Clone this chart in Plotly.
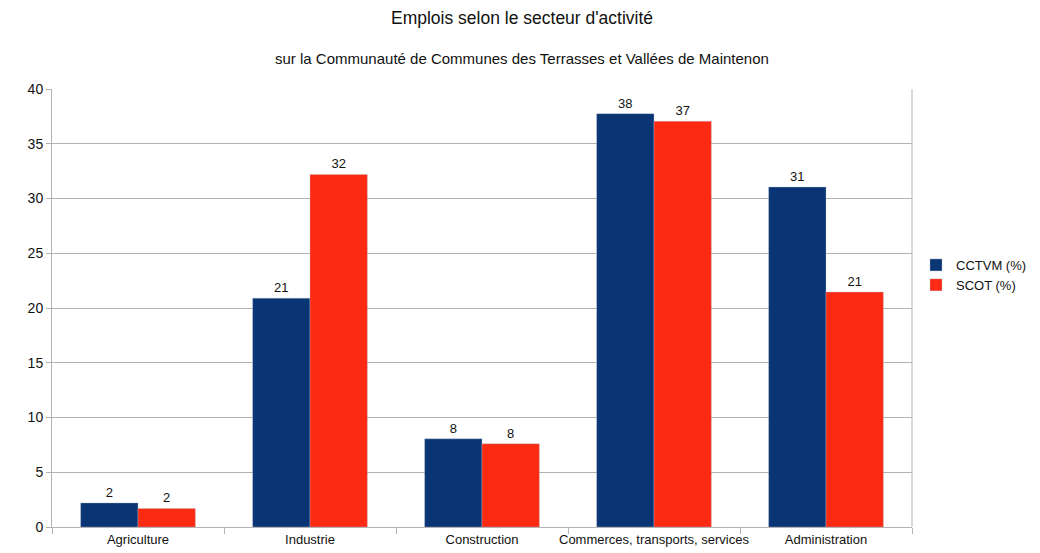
import plotly.graph_objects as go

# Secteurs d'activité et parts d'emploi (%)
secteurs = ["Agriculture", "Industrie", "Construction",
            "Commerces, transports, services", "Administration"]
cctvm = [2.2, 20.9, 8.05, 37.75, 31.05]
scot = [1.7, 32.2, 7.6, 37.05, 21.45]

couleur_cctvm = "#0a3574"
couleur_scot = "#fc2a12"
police = "Liberation Sans, Arial, sans-serif"

W, H = 1040, 553
M_L, M_R, M_T, M_B = 52, 128, 89, 26
h_plot = H - M_T - M_B
w_plot = W - M_L - M_R


def px_y(y_px):
    """Convert a pixel row (from top of page) to paper coordinates."""
    return (H - M_B - y_px) / h_plot


def px_x(x_px):
    return (x_px - M_L) / w_plot


fig = go.Figure()
for nom, valeurs, couleur in [("CCTVM (%)", cctvm, couleur_cctvm),
                              ("SCOT (%)", scot, couleur_scot)]:
    fig.add_trace(go.Bar(
        name=nom, x=secteurs, y=valeurs,
        marker=dict(color=couleur, line=dict(color="rgba(180,190,210,0.6)", width=0.6)),
        texttemplate="%{y:.0f}", textposition="outside",
        textfont=dict(family=police, size=13, color="#111"),
        cliponaxis=False,
    ))

fig.update_layout(
    width=W, height=H,
    margin=dict(l=M_L, r=M_R, t=M_T, b=M_B, autoexpand=False),
    paper_bgcolor="white", plot_bgcolor="white",
    barmode="group", bargap=0.333, bargroupgap=0,
    font=dict(family=police, size=13, color="#111"),
    showlegend=True,
    legend=dict(x=px_x(916), y=px_y(275), xanchor="left", yanchor="middle",
                font=dict(family=police, size=13, color="#111"),
                itemwidth=30, tracegroupgap=0, bgcolor="rgba(0,0,0,0)"),
    annotations=[
        dict(text="Emplois selon le secteur d'activité", x=px_x(522), y=px_y(18),
             xref="paper", yref="paper", showarrow=False,
             xanchor="center", yanchor="middle",
             font=dict(family=police, size=17.5, color="#111")),
        dict(text="sur la Communauté de Communes des Terrasses et Vallées de Maintenon",
             x=px_x(522), y=px_y(58), xref="paper", yref="paper", showarrow=False,
             xanchor="center", yanchor="middle",
             font=dict(family=police, size=15, color="#111")),
    ],
)

fig.update_yaxes(
    range=[0, 40], dtick=5, showgrid=True, gridcolor="#b3b3b3", gridwidth=1,
    showline=True, linecolor="#b3b3b3", linewidth=1,
    ticks="outside", ticklen=5, tickcolor="#b3b3b3",
    tickfont=dict(family=police, size=14, color="#111"),
    zeroline=False, automargin=False,
)
fig.update_xaxes(
    showline=True, linecolor="#b3b3b3", linewidth=1, mirror=False,
    ticks="outside", ticklen=6, tickcolor="#b3b3b3", tickson="boundaries",
    tickangle=0, tickfont=dict(family=police, size=13, color="#111"),
    showgrid=False, automargin=False,
)
# Right-hand frame line of the plot area
fig.add_shape(type="line", xref="paper", yref="paper", x0=1, x1=1, y0=0, y1=1,
              line=dict(color="#b3b3b3", width=1))

fig.write_html("out.html")
